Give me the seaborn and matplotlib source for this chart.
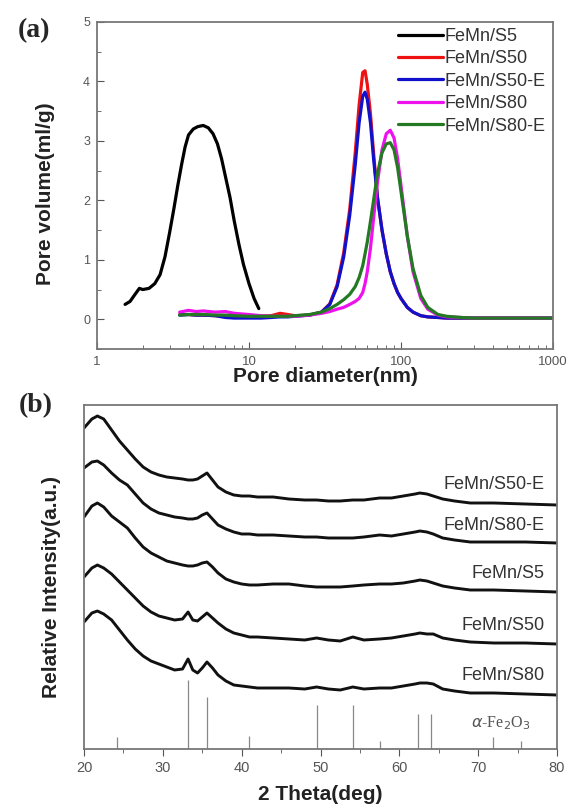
import numpy as np
import pandas as pd
import seaborn as sns
import matplotlib.pyplot as plt
from matplotlib.ticker import FixedLocator, FixedFormatter, LogLocator, NullFormatter, MultipleLocator

sns.set_theme(style="ticks")
plt.rcParams['font.family'] = ['Liberation Sans', 'DejaVu Sans']

# ---- (a) pore size distribution ----
s5_d = [1.53, 1.65, 1.78, 1.9, 2.0, 2.2, 2.4, 2.6, 2.8, 3.0, 3.2, 3.4, 3.6, 3.8, 4.0, 4.3,
        4.6, 5.0, 5.4, 5.8, 6.2, 6.6, 7.0, 7.5, 8.0, 8.6, 9.2, 10.0, 10.8, 11.6]
s5_v = [0.25, 0.30, 0.42, 0.52, 0.50, 0.52, 0.60, 0.75, 1.05, 1.45, 1.85, 2.25, 2.6, 2.9, 3.1, 3.2,
        3.24, 3.26, 3.22, 3.12, 2.95, 2.7, 2.4, 2.05, 1.65, 1.25, 0.92, 0.6, 0.35, 0.18]

pore_d = [3.5, 4, 4.5, 5, 6, 7, 8, 10, 12, 14, 16, 18, 20, 25, 30, 34, 38, 42, 46, 50, 53, 56,
          58, 60, 63, 66, 70, 75, 80, 85, 90, 95, 100, 110, 120, 135, 150, 175, 200, 250, 300,
          400, 500, 700, 1000]
s50_v = [0.08, 0.08, 0.07, 0.07, 0.06, 0.05, 0.04, 0.04, 0.05, 0.06, 0.10, 0.08, 0.06, 0.07, 0.12,
         0.26, 0.58, 1.12, 1.85, 2.8, 3.6, 4.15, 4.18, 3.95, 3.45, 2.8, 2.05, 1.5, 1.1, 0.8, 0.6,
         0.45, 0.35, 0.2, 0.12, 0.06, 0.04, 0.03, 0.02, 0.02, 0.02, 0.02, 0.02, 0.02, 0.02]
s50e_v = [0.07, 0.08, 0.07, 0.07, 0.06, 0.03, 0.02, 0.02, 0.02, 0.03, 0.04, 0.04, 0.05, 0.07, 0.12,
          0.25, 0.55, 1.05, 1.75, 2.6, 3.3, 3.75, 3.82, 3.7, 3.3, 2.7, 2.05, 1.5, 1.1, 0.8, 0.6,
          0.45, 0.35, 0.2, 0.12, 0.06, 0.04, 0.03, 0.02, 0.02, 0.02, 0.02, 0.02, 0.02, 0.02]
s80_v = [0.12, 0.15, 0.13, 0.14, 0.12, 0.13, 0.10, 0.08, 0.06, 0.05, 0.05, 0.05, 0.05, 0.07, 0.10,
         0.13, 0.17, 0.20, 0.25, 0.30, 0.35, 0.45, 0.60, 0.80, 1.2, 1.7, 2.3, 2.85, 3.12, 3.18, 3.05,
         2.7, 2.25, 1.4, 0.8, 0.35, 0.17, 0.07, 0.04, 0.03, 0.02, 0.02, 0.02, 0.02, 0.02]
s80e_v = [0.07, 0.08, 0.08, 0.08, 0.07, 0.07, 0.06, 0.05, 0.05, 0.05, 0.05, 0.05, 0.06, 0.08, 0.12,
          0.18, 0.25, 0.33, 0.42, 0.55, 0.70, 0.90, 1.1, 1.3, 1.65, 2.0, 2.45, 2.8, 2.95, 2.97, 2.85,
          2.55, 2.15, 1.4, 0.85, 0.4, 0.2, 0.08, 0.05, 0.03, 0.02, 0.02, 0.02, 0.02, 0.02]

pore_names = ["FeMn/S5", "FeMn/S50", "FeMn/S50-E", "FeMn/S80", "FeMn/S80-E"]
pore_colors = ["#000000", "#ee1111", "#1111cc", "#ee11ee", "#237a23"]

# ---- (b) XRD patterns ----
theta = [20, 21, 21.7, 22.5, 23.5, 24.5, 25.5, 26.5, 27.5, 28.5, 29.5, 30.5, 31.5, 32.5, 33.2,
         33.8, 34.4, 35.0, 35.6, 36.3, 37, 38, 39, 40, 41, 42, 44, 46, 48, 49.5, 51, 52.5, 54.1,
         55.5, 57.5, 59, 60.5, 62, 62.6, 63.5, 64.3, 65.5, 67, 69, 72, 76, 80]
xrd_s50e = [77, 86, 89, 86, 75, 64, 55, 46, 38, 33, 30, 28, 27, 26, 25, 25, 26, 29, 32, 25, 18, 13,
            10, 9, 9, 8, 8, 6, 5, 5, 4, 4, 5, 5, 7, 7, 9, 11, 12, 11, 9, 6, 4, 2, 2, 1, 0]
xrd_s80e = [75, 81, 82, 78, 70, 63, 58, 49, 40, 34, 30, 28, 26, 25, 24, 24, 25, 28, 30, 24, 18, 14,
            11, 9, 9, 8, 8, 7, 6, 6, 5, 5, 5, 6, 8, 7, 9, 11, 12, 11, 9, 5, 3, 1, 1, 1, 0]
xrd_s5 = [75, 86, 89, 85, 76, 70, 64, 54, 45, 39, 35, 31, 29, 27, 26, 26, 27, 29, 30, 25, 19, 13,
          10, 8, 7, 7, 8, 8, 6, 5, 5, 5, 6, 7, 8, 8, 9, 11, 12, 11, 9, 6, 4, 2, 2, 1, 0]
xrd_s50 = [67, 76, 79, 76, 70, 62, 54, 46, 38, 32, 28, 26, 24, 25, 32, 24, 23, 27, 31, 26, 21, 15,
           11, 9, 7, 7, 6, 5, 4, 6, 4, 3, 7, 4, 5, 6, 8, 10, 11, 10, 10, 6, 4, 2, 1, 1, 0]
xrd_s80 = [73, 82, 84, 81, 75, 65, 55, 46, 39, 34, 31, 28, 25, 26, 36, 25, 22, 27, 33, 27, 20, 14,
           10, 9, 8, 7, 7, 7, 6, 8, 6, 5, 8, 6, 7, 7, 9, 11, 12, 12, 11, 6, 4, 2, 2, 1, 0]
xrd_names = ["FeMn/S50-E", "FeMn/S80-E", "FeMn/S5", "FeMn/S50", "FeMn/S80"]
xrd_offsets = [244, 206, 157, 105, 54]

ref_pos = [24.2, 33.2, 35.6, 40.9, 49.5, 54.1, 57.6, 62.4, 64.0, 71.9, 75.4]
ref_height = [12, 69, 52, 13, 44, 44, 8, 35, 35, 12, 8]

W, H = 568, 808
fig = plt.figure(figsize=(W / 100, H / 100), dpi=100)
ax_a = fig.add_axes([97 / W, 1 - 349 / H, (553 - 97) / W, (349 - 22) / H])
ax_b = fig.add_axes([84 / W, 1 - 749 / H, (557 - 84) / W, (749 - 405) / H])

grey = "#555555"
spine_c = "#777777"

# panel a
pore_df = pd.concat([
    pd.DataFrame({"d": s5_d, "v": s5_v, "sample": "FeMn/S5"}),
    pd.DataFrame({"d": pore_d, "v": s50_v, "sample": "FeMn/S50"}),
    pd.DataFrame({"d": pore_d, "v": s50e_v, "sample": "FeMn/S50-E"}),
    pd.DataFrame({"d": pore_d, "v": s80_v, "sample": "FeMn/S80"}),
    pd.DataFrame({"d": pore_d, "v": s80e_v, "sample": "FeMn/S80-E"}),
])
sns.lineplot(data=pore_df, x="d", y="v", hue="sample", hue_order=pore_names,
             palette=dict(zip(pore_names, pore_colors)), linewidth=2.3, sort=False,
             estimator=None, ax=ax_a)
ax_a.set_xscale("log")
ax_a.set_xlim(1, 1000)
ax_a.set_ylim(-0.5, 5)
ax_a.xaxis.set_major_locator(FixedLocator([1, 10, 100, 1000]))
ax_a.xaxis.set_major_formatter(FixedFormatter(["1", "10", "100", "1000"]))
ax_a.xaxis.set_minor_locator(LogLocator(base=10, subs=np.arange(2, 10)))
ax_a.xaxis.set_minor_formatter(NullFormatter())
ax_a.yaxis.set_major_locator(MultipleLocator(1))
ax_a.yaxis.set_minor_locator(MultipleLocator(0.5))
ax_a.tick_params(which="both", direction="in", top=False, right=False, color=grey,
                 labelcolor=grey)
ax_a.tick_params(which="major", length=5, width=0.8)
ax_a.tick_params(which="minor", length=3, width=0.6)
ax_a.tick_params(axis="x", labelsize=9.5, pad=5)
ax_a.tick_params(axis="y", labelsize=9, pad=5)
ax_a.set_xlabel("Pore diameter(nm)", fontsize=15, fontweight="bold", color="#222222")
ax_a.set_ylabel("Pore volume(ml/g)", fontsize=15, fontweight="bold", color="#222222")
ax_a.xaxis.set_label_coords(0.5, -0.0856)
ax_a.yaxis.set_label_coords(-0.114, 0.475)
ax_a.legend(loc="upper left", bbox_to_anchor=(0.66, 0.982), frameon=False, fontsize=13,
            handlelength=2.5, handletextpad=0.05, labelspacing=0.3, borderpad=0,
            borderaxespad=0, labelcolor="#333333")

# panel b
xrd_series = [xrd_s50e, xrd_s80e, xrd_s5, xrd_s50, xrd_s80]
for name, vals, off in zip(xrd_names, xrd_series, xrd_offsets):
    sns.lineplot(x=theta, y=np.array(vals) + off, color="#111111", linewidth=2.1,
                 sort=False, estimator=None, ax=ax_b)
ax_b.vlines(ref_pos, 0, ref_height, color="#888888", linewidth=0.9)

label_y = [484, 526, 574, 625, 676]
for name, py in zip(xrd_names, label_y):
    ax_b.text(78.4, 749 - py, name, ha="right", va="center", fontsize=13, color="#333333")
ax_b.text(72.8, 749 - 723, r"$\alpha$-Fe$_2$O$_3$", ha="center", va="center",
          fontsize=11.5, color="#555555", family="Liberation Serif")

ax_b.set_xlim(20, 80)
ax_b.set_ylim(0, 344)
ax_b.xaxis.set_major_locator(MultipleLocator(10))
ax_b.xaxis.set_minor_locator(MultipleLocator(5))
ax_b.set_yticks([])
ax_b.tick_params(which="both", direction="out", color=grey, labelcolor=grey, labelsize=10.5)
ax_b.tick_params(which="major", length=5, width=0.8)
ax_b.tick_params(which="minor", length=3, width=0.6)
ax_b.set_xlabel("2 Theta(deg)", fontsize=15, fontweight="bold", color="#222222")
ax_b.set_ylabel("Relative Intensity(a.u.)", fontsize=15, fontweight="bold", color="#222222")
ax_b.xaxis.set_label_coords(0.5, -0.131)
ax_b.yaxis.set_label_coords(-0.0677, 0.47)

for ax in (ax_a, ax_b):
    for lab in (ax.xaxis.label, ax.yaxis.label):
        lab.set_va("center")
        lab.set_ha("center")
    for sp in ax.spines.values():
        sp.set_visible(True)
        sp.set_color(spine_c)
        sp.set_linewidth(1.3)

fig.text(34 / W, 1 - 31 / H, "(a)", ha="center", va="center", fontsize=20,
         fontweight="bold", family="Liberation Serif")
fig.text(36 / W, 1 - 406 / H, "(b)", ha="center", va="center", fontsize=20,
         fontweight="bold", family="Liberation Serif")

fig.savefig("out.png", dpi=100)
